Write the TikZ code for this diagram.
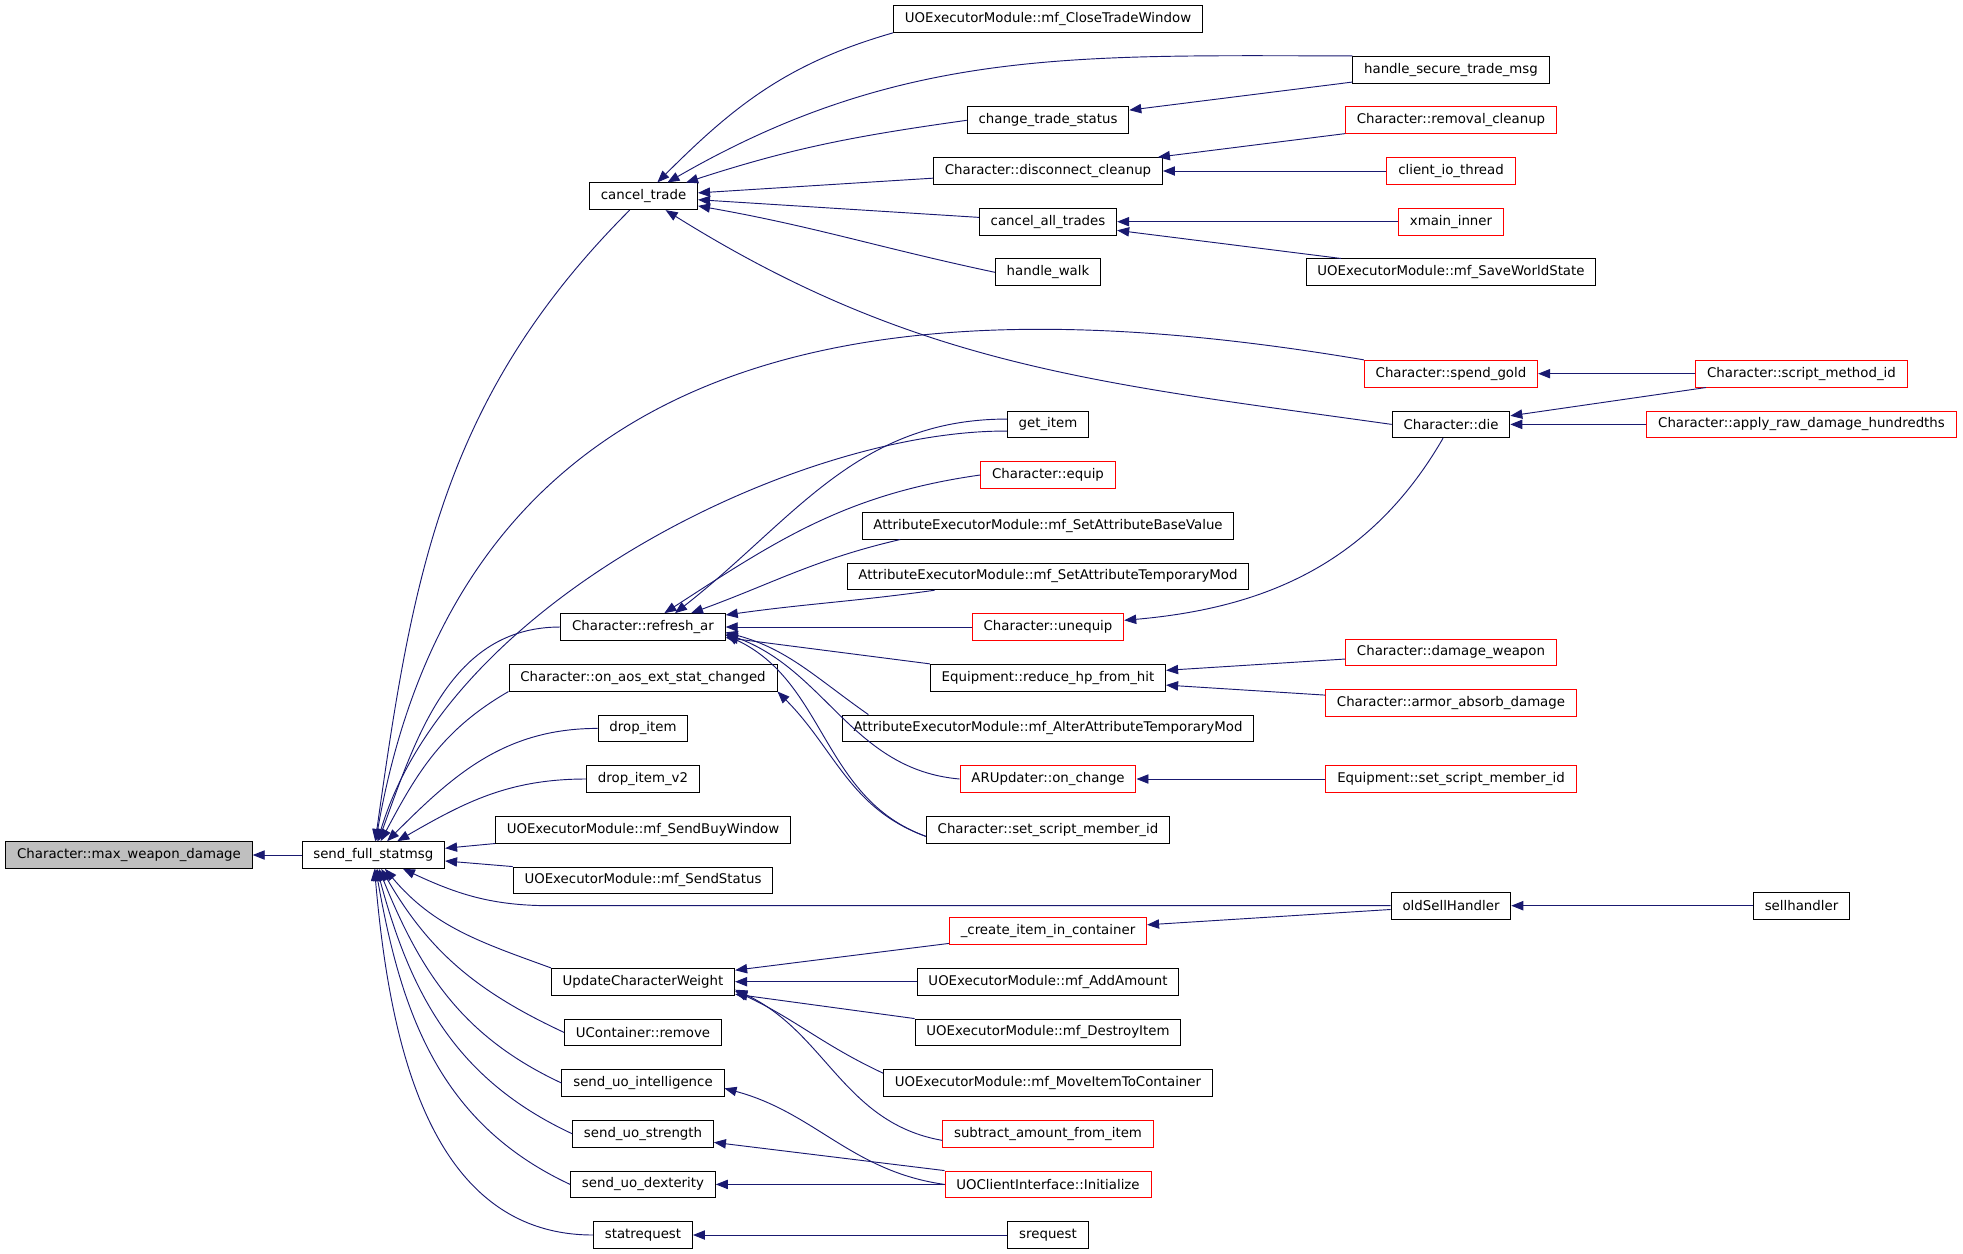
\documentclass[tikz,border=0pt]{standalone}
\usepackage{fontspec}
\setmainfont{DejaVu Sans}
\usepackage{tikz}
\usetikzlibrary{arrows.meta}
\definecolor{dxblue}{HTML}{191970}
\definecolor{dxgray}{HTML}{BFBFBF}
\tikzstyle{fnbox} = [draw, rectangle, line width=0.75pt, minimum height=20pt, inner xsep=8.5pt, inner ysep=0pt, font=\fontsize{10}{12}\selectfont]
\tikzstyle{fnred} = [fnbox, draw=red]
\tikzstyle{fnroot} = [fnbox, fill=dxgray]
\tikzstyle{call} = [->, draw=dxblue, line width=0.7pt]

\begin{document}
\begin{tikzpicture}[x=0.75pt, y=-0.75pt, >={Triangle[length=9pt,width=7pt]}]
 \useasboundingbox (0,0) rectangle (1963,1253);
 % nodes
    \node [fnroot, name=mwd] at (129,855) {Character::max\_weapon\_damage};
    \node [fnbox, name=sfs] at (373.3,855) {send\_full\_statmsg};
    % callers of send_full_statmsg
    \node [fnbox, name=cancel] at (643.5,196.3) {cancel\_trade};
    \node [fnbox, name=refreshar] at (643,627) {Character::refresh\_ar};
    \node [fnbox, name=onaos] at (643,677.7) {Character::on\_aos\_ext\_stat\_changed};
    \node [fnbox, name=dropitem] at (643,728.4) {drop\_item};
    \node [fnbox, name=dropitemvtwo] at (643,779) {drop\_item\_v2};
    \node [fnbox, name=sendbuy] at (643,829.7) {UOExecutorModule::mf\_SendBuyWindow};
    \node [fnbox, name=sendstatus] at (643,880.4) {UOExecutorModule::mf\_SendStatus};
    \node [fnbox, name=weight] at (643,981.7) {UpdateCharacterWeight};
    \node [fnbox, name=ucremove] at (643,1032.4) {UContainer::remove};
    \node [fnbox, name=sendint] at (643,1083) {send\_uo\_intelligence};
    \node [fnbox, name=sendstr] at (643,1133.7) {send\_uo\_strength};
    \node [fnbox, name=senddex] at (643,1184.4) {send\_uo\_dexterity};
    \node [fnbox, name=statreq] at (643,1235) {statrequest};
    % third column
    \node [fnbox, name=closetrade] at (1048,19) {UOExecutorModule::mf\_CloseTradeWindow};
    \node [fnbox, name=tradestatus] at (1048,120.3) {change\_trade\_status};
    \node [fnbox, name=disconnect] at (1048,171) {Character::disconnect\_cleanup};
    \node [fnbox, name=cancelall] at (1048,221.7) {cancel\_all\_trades};
    \node [fnbox, name=walk] at (1048,272.3) {handle\_walk};
    \node [fnbox, name=getitem] at (1048,424.4) {get\_item};
    \node [fnred, name=equip] at (1048,475) {Character::equip};
    \node [fnbox, name=setbase] at (1048,525.7) {AttributeExecutorModule::mf\_SetAttributeBaseValue};
    \node [fnbox, name=settemp] at (1048,576.4) {AttributeExecutorModule::mf\_SetAttributeTemporaryMod};
    \node [fnred, name=unequip] at (1048,627) {Character::unequip};
    \node [fnbox, name=reducehp] at (1048,677.7) {Equipment::reduce\_hp\_from\_hit};
    \node [fnbox, name=altertemp] at (1048,728.4) {AttributeExecutorModule::mf\_AlterAttributeTemporaryMod};
    \node [fnred, name=onchange] at (1048,779) {ARUpdater::on\_change};
    \node [fnbox, name=charscript] at (1048,829.7) {Character::set\_script\_member\_id};
    \node [fnred, name=createitem] at (1048,931) {\_create\_item\_in\_container};
    \node [fnbox, name=addamount] at (1048,981.7) {UOExecutorModule::mf\_AddAmount};
    \node [fnbox, name=destroyitem] at (1048,1032.4) {UOExecutorModule::mf\_DestroyItem};
    \node [fnbox, name=moveitem] at (1048,1083) {UOExecutorModule::mf\_MoveItemToContainer};
    \node [fnred, name=subtract] at (1048,1133.7) {subtract\_amount\_from\_item};
    \node [fnred, name=clientinit] at (1048,1184.4) {UOClientInterface::Initialize};
    \node [fnbox, name=srequest] at (1048,1235) {srequest};
    % fourth column
    \node [fnbox, name=securetrade] at (1451,69.7) {handle\_secure\_trade\_msg};
    \node [fnred, name=removal] at (1451,120.3) {Character::removal\_cleanup};
    \node [fnred, name=iothread] at (1451,171) {client\_io\_thread};
    \node [fnred, name=xmain] at (1451,221.7) {xmain\_inner};
    \node [fnbox, name=saveworld] at (1451,272.3) {UOExecutorModule::mf\_SaveWorldState};
    \node [fnred, name=spendgold] at (1451,373.7) {Character::spend\_gold};
    \node [fnbox, name=die] at (1451,424.4) {Character::die};
    \node [fnred, name=damageweapon] at (1451,652.4) {Character::damage\_weapon};
    \node [fnred, name=armorabsorb] at (1451,703) {Character::armor\_absorb\_damage};
    \node [fnred, name=equipscript] at (1451,779) {Equipment::set\_script\_member\_id};
    \node [fnbox, name=oldsell] at (1451,905.7) {oldSellHandler};
    % fifth column
    \node [fnred, name=scriptmethod] at (1801.5,373.7) {Character::script\_method\_id};
    \node [fnred, name=rawdamage] at (1801.5,424.4) {Character::apply\_raw\_damage\_hundredths};
    \node [fnbox, name=sellhandler] at (1801.5,905.7) {sellhandler};
    % edges
    \draw [call] (sfs) -- (mwd);
    \draw [call] (cancel) to[out=-135,in=82] (sfs);
    \draw [call] (spendgold.north west) .. controls (950,290) and (470,300) .. (sfs);
    \draw [call] ([yshift=-5pt]getitem.west) .. controls (800,430) and (450,600) .. (sfs);
    \draw [call] (refreshar.west) to[out=180,in=70] (sfs);
    \draw [call] (onaos.south west) to[out=-150,in=62] (sfs);
    \draw [call] (dropitem.west) to[out=180,in=45] (sfs);
    \draw [call] (dropitemvtwo.west) to[out=180,in=30] (sfs);
    \draw [call] (sendbuy.south west) -- (sfs);
    \draw [call] (sendstatus.north west) -- (sfs);
    \draw [call] (oldsell.west) -- ++(-840,0) to[out=180,in=-25] (sfs);
    \draw [call] (weight.north west) to[out=160,in=-50] (sfs);
    \draw [call] (ucremove.west) to[out=155,in=-60] (sfs);
    \draw [call] (sendint.west) to[out=155,in=-68] (sfs);
    \draw [call] (sendstr.west) to[out=155,in=-75] (sfs);
    \draw [call] (senddex.west) to[out=155,in=-80] (sfs);
    \draw [call] (statreq.west) to[out=180,in=-85] (sfs);
    % into cancel_trade
    \draw [call] (closetrade.south west) to[out=-164,in=45] (cancel);
    \draw [call] (securetrade.north west) to[out=180,in=30] (cancel);
    \draw [call] (tradestatus.west) to[out=-172,in=18] (cancel);
    \draw [call] (disconnect) -- (cancel);
    \draw [call] (cancelall) -- (cancel);
    \draw [call] (walk.west) to[out=168,in=-10] (cancel);
    \draw [call] (die.west) to[out=172,in=-32] (cancel);
    \draw [call] (securetrade) -- (tradestatus);
    \draw [call] (removal) -- (disconnect);
    \draw [call] (iothread) -- (disconnect);
    \draw [call] (xmain) -- (cancelall);
    \draw [call] (saveworld) -- (cancelall);
    \draw [call] (scriptmethod) -- (spendgold);
    \draw [call] (scriptmethod) -- (die);
    \draw [call] (rawdamage) -- (die);
    \draw [call] (die) to[out=-120,in=5] (unequip);
    % into refresh_ar
    \draw [call] ([yshift=4pt]getitem.west) to[out=180,in=38] ([xshift=24pt]refreshar.north);
    \draw [call] (equip.west) to[out=-172,in=33] ([xshift=16pt]refreshar.north);
    \draw [call] ([xshift=29pt]setbase.south west) to[out=-167,in=20] ([xshift=36pt]refreshar.north);
    \draw [call] ([xshift=66pt]settemp.south west) to[out=-172,in=8] ([yshift=9pt]refreshar.east);
    \draw [call] (unequip) -- (refreshar);
    \draw [call] (reducehp.north west) -- (refreshar);
    \draw [call] ([xshift=20pt]altertemp.north west) to[out=145,in=-15] ([yshift=-4pt]refreshar.east);
    \draw [call] (onchange.west) to[out=175,in=-20] ([yshift=-5pt]refreshar.east);
    \draw [call] ([yshift=-5pt]charscript.west) to[out=160,in=-25] ([yshift=-6pt]refreshar.east);
    \draw [call] ([yshift=-5pt]charscript.west) to[out=160,in=-45] (onaos.south east);
    \draw [call] (damageweapon) -- (reducehp);
    \draw [call] (armorabsorb) -- (reducehp);
    \draw [call] (equipscript) -- (onchange);
    % lower part
    \draw [call] (sellhandler) -- (oldsell);
    \draw [call] (oldsell) -- (createitem);
    \draw [call] (createitem) -- (weight);
    \draw [call] (addamount) -- (weight);
    \draw [call] (destroyitem.north west) -- (weight);
    \draw [call] ([yshift=-3pt]moveitem.north west) to[out=155,in=-25] ([yshift=-7pt]weight.east);
    \draw [call] ([yshift=-5pt]subtract.west) to[out=170,in=-25] ([yshift=-6pt]weight.east);
    \draw [call] (clientinit.west) to[out=172,in=-15] ([yshift=-4pt]sendint.east);
    \draw [call] (clientinit.north west) -- (sendstr);
    \draw [call] (clientinit) -- (senddex);
    \draw [call] (srequest) -- (statreq);
\end{tikzpicture}
\end{document}
